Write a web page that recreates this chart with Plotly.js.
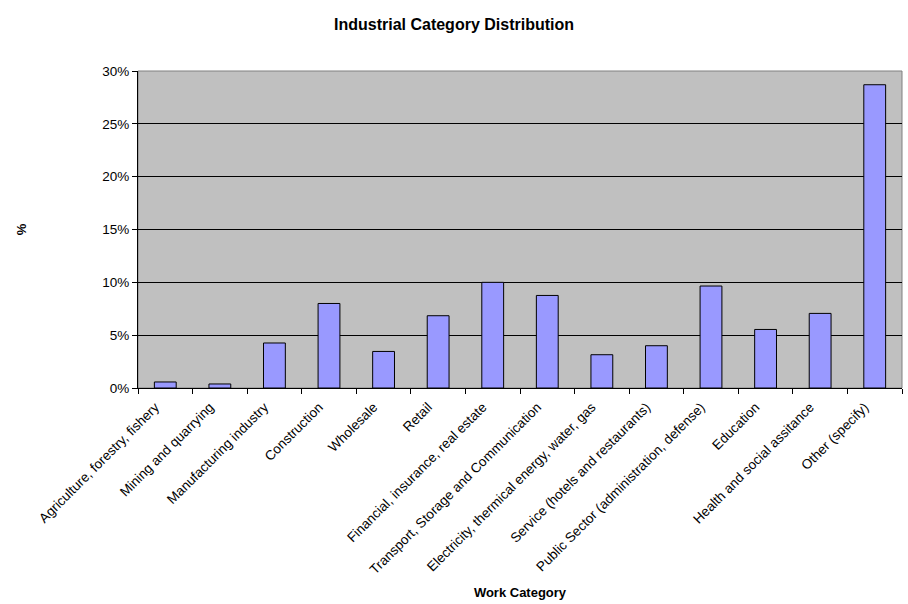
<!DOCTYPE html>
<html>
<head>
<meta charset="utf-8">
<script src="https://cdn.plot.ly/plotly-3.0.1.min.js"></script>
<style>html,body{margin:0;padding:0;background:#fff;}#chart{width:908px;height:604px;}</style>
</head>
<body>
<div id="chart"></div>
<script>
const categories = [
  "Agriculture, forestry, fishery",
  "Mining and quarrying",
  "Manufacturing industry",
  "Construction",
  "Wholesale",
  "Retail",
  "Financial, insurance, real estate",
  "Transport, Storage and Communication",
  "Electricity, thermical energy, water, gas",
  "Service (hotels and restaurants)",
  "Public Sector (administration, defense)",
  "Education",
  "Health and social assitance",
  "Other (specify)"
];
const percentValues = [0.57, 0.38, 4.26, 8.0, 3.46, 6.84, 10.0, 8.76, 3.15, 4.0, 9.65, 5.54, 7.06, 28.7];
const yTickValues = [0, 5, 10, 15, 20, 25, 30];
const yTickLabels = ["0%", "5%", "10%", "15%", "20%", "25%", "30%"];

const font = "Arial, 'Liberation Sans', sans-serif";

const trace = {
  type: "bar",
  x: categories,
  y: percentValues,
  marker: {color: "#9999FF", line: {color: "#000000", width: 1}},
  hoverinfo: "x+y"
};

const layout = {
  width: 908,
  height: 604,
  margin: {l: 138, r: 6, t: 71, b: 216},
  paper_bgcolor: "#ffffff",
  plot_bgcolor: "#C0C0C0",
  bargap: 0.6,
  showlegend: false,
  font: {family: font, size: 13, color: "#000"},
  title: {
    text: "<b>Industrial Category Distribution</b>",
    font: {family: font, size: 16, color: "#000"},
    x: 0.5, xref: "container", xanchor: "center",
    y: 0.96, yref: "container", yanchor: "middle"
  },
  xaxis: {
    type: "category",
    tickangle: -45,
    tickson: "boundaries",
    ticks: "outside",
    ticklen: 5,
    tickcolor: "#000",
    showline: true,
    linecolor: "#000",
    linewidth: 1,
    showgrid: false,
    automargin: false,
    ticklabelstandoff: 5,
    ticklabelshift: -10,
    tickfont: {family: font, size: 13.5, color: "#000"},
    title: {text: "<b>Work Category</b>", font: {family: font, size: 13, color: "#000"}, standoff: 11}
  },
  yaxis: {
    range: [0, 30],
    tickvals: yTickValues,
    ticktext: yTickLabels,
    ticks: "outside",
    ticklen: 5,
    tickcolor: "#000",
    showline: true,
    linecolor: "#000",
    linewidth: 1,
    showgrid: true,
    gridcolor: "#000",
    gridwidth: 1,
    zeroline: false,
    automargin: false,
    tickfont: {family: font, size: 13.5, color: "#000"},
    title: {text: "<b>%</b>", font: {family: font, size: 13, color: "#000"}, standoff: 72}
  },
  shapes: [{
    type: "rect", xref: "paper", yref: "paper", x0: 0, x1: 1, y0: 0, y1: 1,
    line: {color: "#808080", width: 1}, fillcolor: "rgba(0,0,0,0)", layer: "below"
  }]
};

Plotly.newPlot("chart", [trace], layout, {displayModeBar: false, staticPlot: true});
</script>
</body>
</html>
